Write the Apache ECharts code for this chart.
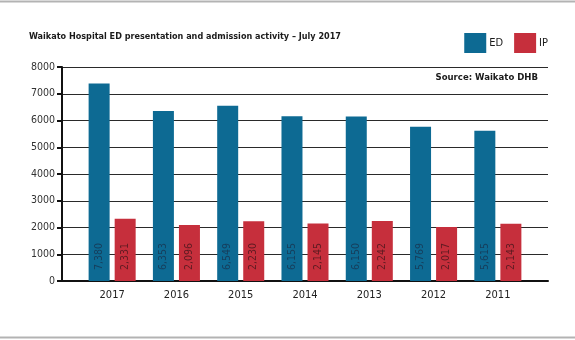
<!DOCTYPE html>
<html>
<head>
<meta charset="utf-8">
<script src="https://cdn.jsdelivr.net/npm/echarts@6/dist/echarts.min.js"></script>
<style>
html,body{margin:0;padding:0;background:#fff;}
#chart{width:575px;height:340px;}
</style>
</head>
<body>
<div id="chart"></div>
<script>
var categories = ['2017', '2016', '2015', '2014', '2013', '2012', '2011'];
var edValues = [7380, 6353, 6549, 6155, 6150, 5769, 5615];
var ipValues = [2331, 2096, 2230, 2145, 2242, 2017, 2143];
var yTicks = [0, 1000, 2000, 3000, 4000, 5000, 6000, 7000, 8000];

var FONT = '"Liberation Sans Narrow", "DejaVu Sans Condensed", "Liberation Sans", sans-serif';
var chart = echarts.init(document.getElementById('chart'), null, {renderer: 'canvas'});

function fmt(v) { return v.toLocaleString('en-US'); }

var option = {
  backgroundColor: '#ffffff',
  animation: false,
  title: {
    text: 'Waikato Hospital ED presentation and admission activity \u2013 July 2017',
    left: 24, top: 27,
    textStyle: {fontFamily: FONT, fontSize: 9, fontWeight: 'bold', color: '#1a1a1a'}
  },
  legend: {
    right: 22, top: 28,
    itemWidth: 22, itemHeight: 20, itemGap: 11,
    icon: 'rect',
    textStyle: {fontFamily: FONT, fontSize: 11, color: '#1a1a1a', padding: [0, 0, 0, -2]},
    data: ['ED', 'IP']
  },
  graphic: [
    {type: 'line', shape: {x1: 0, y1: 1.5, x2: 575, y2: 1.5}, style: {stroke: '#b3b3b3', lineWidth: 2}},
    {type: 'line', shape: {x1: 0, y1: 337.5, x2: 575, y2: 337.5}, style: {stroke: '#b3b3b3', lineWidth: 2}},
    {type: 'text', right: 37, top: 73, style: {text: 'Source: Waikato DHB', font: 'bold 9.5px ' + FONT, fill: '#1a1a1a'}}
  ],
  grid: [
    {left: 62, right: 27, top: 67, bottom: 59},
    {left: 80, right: 45, top: 67, bottom: 59}
  ],
  xAxis: [
    {gridIndex: 0, type: 'value', min: 0, max: 1,
     axisLine: {show: true, onZero: false, lineStyle: {color: '#111', width: 2}},
     axisTick: {show: false}, axisLabel: {show: false}, splitLine: {show: false}},
    {gridIndex: 1, type: 'category', data: categories,
     axisLine: {show: false}, axisTick: {show: false},
     axisLabel: {margin: 9, fontFamily: FONT, fontSize: 11, color: '#222'}}
  ],
  yAxis: [
    {gridIndex: 0, type: 'value', min: yTicks[0], max: yTicks[yTicks.length - 1], interval: 1000,
     axisLine: {show: true, lineStyle: {color: '#111', width: 2}},
     axisTick: {show: true, length: 5, lineStyle: {color: '#111', width: 2}},
     axisLabel: {margin: 7, fontFamily: FONT, fontSize: 10.5, color: '#333',
       formatter: function (v) { return String(v); }},
     splitLine: {show: true, lineStyle: {color: '#2a2a2a', width: 1}}},
    {gridIndex: 1, type: 'value', min: yTicks[0], max: yTicks[yTicks.length - 1], interval: 1000,
     show: false, splitLine: {show: false}}
  ],
  series: [
    {name: 'ED', type: 'bar', xAxisIndex: 1, yAxisIndex: 1, data: edValues,
     barWidth: 21, barGap: '24%',
     itemStyle: {color: '#0d6a93'},
     label: {show: true, position: 'insideBottom', rotate: 90, align: 'left', verticalAlign: 'middle',
       distance: 11, formatter: function (p) { return fmt(p.value); },
       fontFamily: FONT, fontSize: 10.5, color: '#163e5c'}},
    {name: 'IP', type: 'bar', xAxisIndex: 1, yAxisIndex: 1, data: ipValues,
     barWidth: 21,
     itemStyle: {color: '#c62f3c'},
     label: {show: true, position: 'insideBottom', rotate: 90, align: 'left', verticalAlign: 'middle',
       distance: 11, formatter: function (p) { return fmt(p.value); },
       fontFamily: FONT, fontSize: 10.5, color: '#5e1b22'}}
  ]
};
chart.setOption(option);
</script>
</body>
</html>
